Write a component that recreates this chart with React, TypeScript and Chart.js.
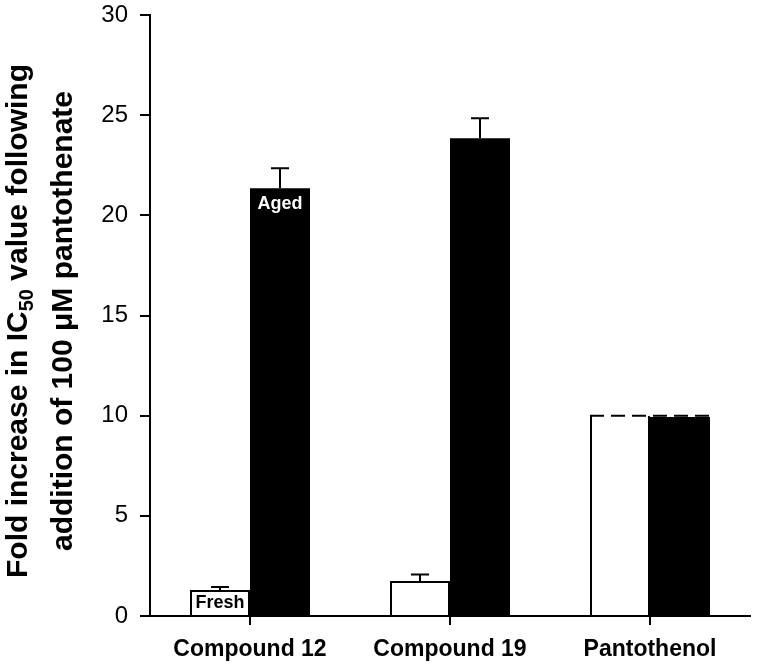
import React, { useEffect, useRef } from "react";
import { Chart, registerables } from "chart.js";

Chart.register(...registerables);

const categories = ["Compound 12", "Compound 19", "Pantothenol"];
const freshValues = [1.3, 1.75, 10];
const agedValues = [21.35, 23.85, 10];
const freshErrors = [0.15, 0.32, 0];
const agedErrors = [1.0, 1.0, 0];
const referenceLine = [null, null, 10];
const yMin = 0;
const yMax = 30;
const yStep = 5;
const freshLabel = "Fresh";
const agedLabel = "Aged";
const titleLine1 = ["Fold increase in IC", "50", " value following"];
const titleLine2 = "addition of 100 \u03BCM pantothenate";

const FONT = "'Liberation Sans', Arial, Helvetica, sans-serif";

const errorBarPlugin = {
  id: "errorBars",
  afterDatasetsDraw(chart: any) {
    const ctx = chart.ctx;
    const y = chart.scales.y;
    const errs = [freshErrors, agedErrors];
    ctx.save();
    ctx.strokeStyle = "#000";
    ctx.lineWidth = 2;
    [0, 1].forEach((di) => {
      const meta = chart.getDatasetMeta(di);
      const vals = chart.data.datasets[di].data as number[];
      meta.data.forEach((bar: any, i: number) => {
        const e = errs[di][i];
        if (!e) return;
        const y0 = y.getPixelForValue(vals[i]);
        const y1 = y.getPixelForValue(vals[i] + e);
        ctx.beginPath();
        ctx.moveTo(bar.x, y0);
        ctx.lineTo(bar.x, y1);
        ctx.moveTo(bar.x - 9, y1);
        ctx.lineTo(bar.x + 9, y1);
        ctx.stroke();
      });
    });
    const m0 = chart.getDatasetMeta(0);
    const m1 = chart.getDatasetMeta(1);
    referenceLine.forEach((v, i) => {
      if (v == null) return;
      const b0 = m0.data[i] as any;
      const b1 = m1.data[i] as any;
      const x0 = b0.x - b0.width / 2;
      const x1 = b1.x + b1.width / 2;
      const py = y.getPixelForValue(v);
      ctx.setLineDash([]);
      ctx.strokeStyle = "#fff";
      ctx.lineWidth = 2.5;
      ctx.beginPath();
      ctx.moveTo(b1.x - b1.width / 2, py);
      ctx.lineTo(x1, py);
      ctx.stroke();
      ctx.strokeStyle = "#000";
      ctx.lineWidth = 2;
      ctx.setLineDash([14, 7]);
      ctx.beginPath();
      ctx.moveTo(x0, py);
      ctx.lineTo(x1, py);
      ctx.stroke();
      ctx.setLineDash([]);
    });
    ctx.textAlign = "center";
    ctx.textBaseline = "middle";
    ctx.font = `bold 18px ${FONT}`;
    const fb = m0.data[0] as any;
    ctx.fillStyle = "#000";
    ctx.fillText(freshLabel, fb.x, (fb.y + fb.base) / 2 + 1);
    const ab = m1.data[0] as any;
    ctx.fillStyle = "#fff";
    ctx.fillText(agedLabel, ab.x, ab.y + 16);
    ctx.restore();
  },
};

const titlePlugin = {
  id: "yTitle",
  afterDraw(chart: any) {
    const ctx = chart.ctx;
    const cy = 321;
    ctx.save();
    ctx.fillStyle = "#000";
    ctx.textBaseline = "alphabetic";
    ctx.textAlign = "left";
    const big = `bold 30px ${FONT}`;
    const small = `bold 20px ${FONT}`;
    ctx.translate(27, cy);
    ctx.rotate(-Math.PI / 2);
    ctx.font = big;
    const w1 = ctx.measureText(titleLine1[0]).width;
    const w3 = ctx.measureText(titleLine1[2]).width;
    ctx.font = small;
    const w2 = ctx.measureText(titleLine1[1]).width;
    let x = -(w1 + w2 + w3) / 2;
    ctx.font = big;
    ctx.fillText(titleLine1[0], x, 0);
    x += w1;
    ctx.font = small;
    ctx.fillText(titleLine1[1], x, 6);
    x += w2;
    ctx.font = big;
    ctx.fillText(titleLine1[2], x, 0);
    ctx.restore();
    ctx.save();
    ctx.fillStyle = "#000";
    ctx.translate(72, cy);
    ctx.rotate(-Math.PI / 2);
    ctx.font = big;
    ctx.textAlign = "center";
    ctx.textBaseline = "alphabetic";
    ctx.fillText(titleLine2, 0, 0);
    ctx.restore();
  },
};

export default function App() {
  const ref = useRef<HTMLCanvasElement>(null);
  useEffect(() => {
    document.body.style.margin = "0";
    const canvas = ref.current;
    if (!canvas) return;
    const chart = new Chart(canvas, {
      type: "bar",
      data: {
        labels: categories,
        datasets: [
          {
            label: freshLabel,
            data: freshValues,
            backgroundColor: "#fff",
            borderColor: "#000",
            borderWidth: (c: any) =>
              referenceLine[c.dataIndex] != null
                ? { left: 2, right: 2, top: 0, bottom: 0 }
                : { left: 2, right: 2, top: 2, bottom: 0 },
            borderSkipped: "start",
            barPercentage: 1,
            categoryPercentage: 0.6,
          },
          {
            label: agedLabel,
            data: agedValues,
            backgroundColor: "#000",
            borderWidth: 0,
            barPercentage: 1,
            categoryPercentage: 0.6,
          },
        ],
      },
      options: {
        animation: false,
        responsive: false,
        maintainAspectRatio: false,
        layout: { padding: { left: 0, right: 8, top: 15, bottom: 0 } },
        plugins: {
          legend: { display: false },
          tooltip: { enabled: false },
          title: { display: false },
        },
        scales: {
          x: {
            offset: true,
            grid: {
              offset: false,
              display: true,
              drawOnChartArea: false,
              drawTicks: true,
              tickLength: 9,
              color: "#000",
              lineWidth: 2,
            },
            border: { display: true, color: "#000", width: 2 },
            ticks: {
              color: "#000",
              font: { family: FONT, size: 23, weight: "bold" },
              padding: 11,
              maxRotation: 0,
              autoSkip: false,
            },
            afterFit: (s: any) => {
              s.height = 54;
              s.paddingLeft = 0;
              s.paddingRight = 0;
            },
          },
          y: {
            min: yMin,
            max: yMax,
            grid: {
              display: true,
              drawOnChartArea: false,
              drawTicks: true,
              tickLength: 10,
              color: "#000",
              lineWidth: 2,
            },
            border: { display: true, color: "#000", width: 2 },
            ticks: {
              stepSize: yStep,
              color: "#000",
              font: { family: FONT, size: 24 },
              padding: 12,
            },
            afterFit: (s: any) => {
              s.width = 150;
              s.paddingTop = 0;
              s.paddingBottom = 0;
            },
          },
        },
      },
      plugins: [errorBarPlugin, titlePlugin],
    } as any);
    return () => chart.destroy();
  }, []);
  return (
    <div style={{ width: 758, height: 670, position: "relative" }}>
      <canvas ref={ref} width={758} height={670} style={{ display: "block" }} />
    </div>
  );
}
